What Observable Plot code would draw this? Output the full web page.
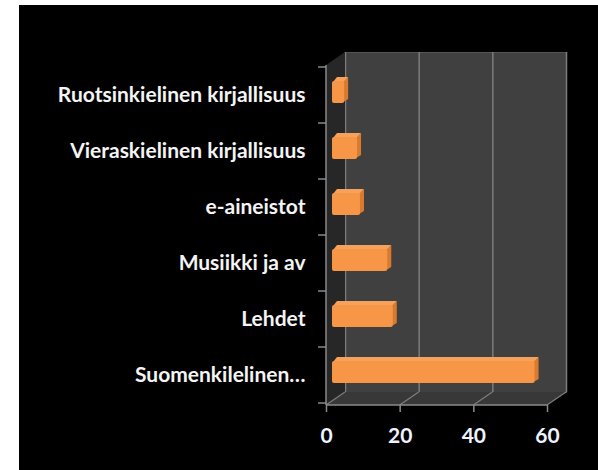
<!DOCTYPE html>
<html>
<head>
<meta charset="utf-8">
<script src="https://cdn.jsdelivr.net/npm/d3@7"></script>
<script src="https://cdn.jsdelivr.net/npm/@observablehq/plot@0.6"></script>
<style>
  html, body { margin: 0; padding: 0; background: #ffffff; width: 598px; height: 470px; overflow: hidden; }
  #chart { position: absolute; left: 19px; top: 5px; width: 579px; height: 465px; background: #000000; }
  #chart svg { display: block; }
</style>
</head>
<body>
<div id="chart"></div>
<script>
const categories = ["Ruotsinkielinen kirjallisuus", "Vieraskielinen kirjallisuus", "e-aineistot", "Musiikki ja av", "Lehdet", "Suomenkilelinen…"];
const values = [3.3, 6.8, 7.6, 15, 16.5, 55];
const xTicks = [0, 20, 40, 60];

const data = categories.map((c, i) => ({category: c, value: values[i]}));

// depth of the 3D box (pixels)
const DX = 19, DY = -13;
// bar placement inside the box
const BX = 6, BY = -3, EX = 4, EY = -4;

function el(tag, attrs) {
  const e = document.createElementNS("http://www.w3.org/2000/svg", tag);
  for (const k in attrs) e.setAttribute(k, attrs[k]);
  return e;
}

// left wall, floor, and floor diagonals
function box(index, scales, values, dim) {
  const g = el("g", {});
  const x = scales.x;
  const top = dim.marginTop, bottom = dim.height - dim.marginBottom;
  const x0 = x(0), x1 = x(60);
  g.appendChild(el("polygon", {
    points: `${x0},${top} ${x0 + DX},${top + DY} ${x0 + DX},${bottom + DY} ${x0},${bottom}`,
    fill: "#272727"
  }));
  g.appendChild(el("polygon", {
    points: `${x0},${bottom} ${x0 + DX},${bottom + DY} ${x1 + DX},${bottom + DY} ${x1},${bottom}`,
    fill: "#383838"
  }));
  for (const t of xTicks) {
    g.appendChild(el("line", {
      x1: x(t), y1: bottom, x2: x(t) + DX, y2: bottom + DY,
      stroke: "#7c7c7c", "stroke-width": 1.3
    }));
  }
  g.appendChild(el("line", {x1: x0, y1: bottom, x2: x1, y2: bottom, stroke: "#8a8a8a", "stroke-width": 1.5}));
  g.appendChild(el("line", {x1: x0, y1: top, x2: x0, y2: bottom, stroke: "#8a8a8a", "stroke-width": 1.5}));
  // category boundary ticks on the front vertical axis
  const y = scales.y;
  const step = y(categories[1]) - y(categories[0]);
  const bw = y.bandwidth ? y.bandwidth() : step * 0.4;
  categories.forEach((c, i) => {
    const b = y(c) + bw / 2 - step / 2;
    g.appendChild(el("line", {x1: x0 - 8, y1: b, x2: x0, y2: b, stroke: "#8a8a8a", "stroke-width": 1.5}));
    if (i === categories.length - 1) {
      const b2 = b + step;
      g.appendChild(el("line", {x1: x0 - 8, y1: b2, x2: x0, y2: b2, stroke: "#8a8a8a", "stroke-width": 1.5}));
    }
  });
  return g;
}

// 3D extrusion of the bars (top and right faces)
function barFaces(index, scales) {
  const g = el("g", {});
  const x = scales.x, y = scales.y;
  const bw = y.bandwidth ? y.bandwidth() : 23;
  for (const d of data) {
    const xa = x(0) + BX, xb = x(d.value) + BX;
    const yt = y(d.category) + BY, yb = yt + bw;
    g.appendChild(el("polygon", {
      points: `${xa + 1},${yt + 1} ${xa + EX + 1},${yt + EY} ${xb + EX},${yt + EY} ${xb},${yt + 1}`,
      fill: "#f6a25c"
    }));
    g.appendChild(el("polygon", {
      points: `${xb - 1},${yt + 1} ${xb + EX},${yt + EY} ${xb + EX},${yb + EY} ${xb - 1},${yb - 1}`,
      fill: "#d97b2e"
    }));
  }
  return g;
}

const chart = Plot.plot({
  width: 579,
  height: 465,
  marginLeft: 307,
  marginRight: 51,
  marginTop: 60,
  marginBottom: 65,
  style: {background: "#000000", color: "#ffffff", fontFamily: "Lato, 'Liberation Sans', Arial, sans-serif"},
  x: {domain: [0, 60], axis: null},
  y: {domain: categories, paddingInner: 0.6, paddingOuter: 0.3, axis: null},
  marks: [
    Plot.frame({fill: "#404040", stroke: "#555555", dx: DX, dy: DY}),
    Plot.ruleX(xTicks, {stroke: "#7c7c7c", strokeWidth: 1.5, dx: DX, dy: DY}),
    box,
    barFaces,
    Plot.barX(data, {x: "value", y: "category", fill: "#f79646", rx: 2, dx: BX, dy: BY}),
    Plot.axisY({tickSize: 0, tickPadding: 21, fontSize: 21, fontWeight: "bold", fill: "#f4f4f4", label: null}),
    Plot.axisX({ticks: xTicks, tickSize: 7, tickPadding: 16, fontSize: 21, fontWeight: "bold", stroke: "#8a8a8a", strokeWidth: 1.5, fill: "#eef3ff", label: null})
  ]
});

document.getElementById("chart").appendChild(chart);
</script>
</body>
</html>
